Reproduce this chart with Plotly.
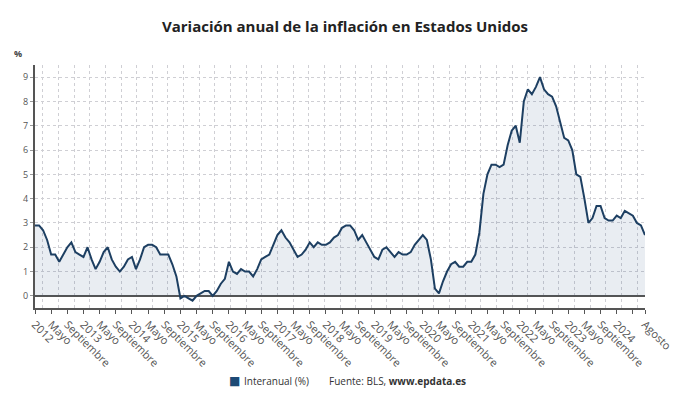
import pandas as pd
import plotly.graph_objects as go

# ---- data (monthly year-on-year CPI, %) ----
start_month = "2012-01"
v2012 = [2.9, 2.9, 2.7, 2.3, 1.7, 1.7, 1.4, 1.7, 2.0, 2.2, 1.8, 1.7]
v2013 = [1.6, 2.0, 1.5, 1.1, 1.4, 1.8, 2.0, 1.5, 1.2, 1.0, 1.2, 1.5]
v2014 = [1.6, 1.1, 1.5, 2.0, 2.1, 2.1, 2.0, 1.7, 1.7, 1.7, 1.3, 0.8]
v2015 = [-0.1, 0.0, -0.1, -0.2, 0.0, 0.1, 0.2, 0.2, 0.0, 0.2, 0.5, 0.7]
v2016 = [1.4, 1.0, 0.9, 1.1, 1.0, 1.0, 0.8, 1.1, 1.5, 1.6, 1.7, 2.1]
v2017 = [2.5, 2.7, 2.4, 2.2, 1.9, 1.6, 1.7, 1.9, 2.2, 2.0, 2.2, 2.1]
v2018 = [2.1, 2.2, 2.4, 2.5, 2.8, 2.9, 2.9, 2.7, 2.3, 2.5, 2.2, 1.9]
v2019 = [1.6, 1.5, 1.9, 2.0, 1.8, 1.6, 1.8, 1.7, 1.7, 1.8, 2.1, 2.3]
v2020 = [2.5, 2.3, 1.5, 0.3, 0.1, 0.6, 1.0, 1.3, 1.4, 1.2, 1.2, 1.4]
v2021 = [1.4, 1.7, 2.6, 4.2, 5.0, 5.4, 5.4, 5.3, 5.4, 6.2, 6.8, 7.0]
v2022 = [6.3, 8.0, 8.5, 8.3, 8.6, 9.0, 8.5, 8.3, 8.2, 7.8, 7.1, 6.5]
v2023 = [6.4, 6.0, 5.0, 4.9, 4.0, 3.0, 3.2, 3.7, 3.7, 3.2, 3.1, 3.1]
v2024 = [3.3, 3.2, 3.5, 3.4, 3.3, 3.0, 2.9, 2.5]

values = (v2012 + v2013 + v2014 + v2015 + v2016 + v2017 + v2018 +
          v2019 + v2020 + v2021 + v2022 + v2023 + v2024)
months = pd.date_range(start_month, periods=len(values), freq="MS")
x_idx = list(range(len(values)))

month_names = {5: "Mayo", 9: "Septiembre"}
y_ticks = list(range(0, 10))
series_name = "Interanual (%)"
source_text = "Fuente: BLS, <b>www.epdata.es</b>"

# ---- tick labels every 4 months ----
tickvals, ticktext = [], []
for i, d in enumerate(months):
    if i % 4 == 0:
        tickvals.append(i)
        ticktext.append(str(d.year) if d.month == 1 else month_names[d.month])
last = len(values) - 1
if tickvals[-1] > last - 4:
    ticktext[-1] = ""
tickvals.append(last)
ticktext.append("Agosto")

# vertical dotted grid (offset from the tick positions, as in the original)
n_grid = 39
grid_vals = [(k + 0.5) * last / n_grid for k in range(n_grid)]

LINE = "#1d3f62"
FILL = "rgba(40,80,130,0.10)"
GRID = "#cfcfd4"
AXIS = "#555555"

fig = go.Figure()
fig.add_trace(go.Scatter(
    x=x_idx, y=values, mode="lines", name=series_name,
    line=dict(color=LINE, width=2),
    fill="tozeroy", fillcolor=FILL,
    showlegend=False, hoverinfo="skip",
))

fig.update_layout(
    width=690, height=405,
    margin=dict(l=35, r=45, t=65, b=97, autoexpand=False),
    paper_bgcolor="white", plot_bgcolor="white",
    font=dict(family="Open Sans", color="#333333"),
    title=dict(
        text="<b>Variación anual de la inflación en Estados Unidos</b>",
        x=0.5, xref="container", xanchor="center",
        y=1 - 27 / 405, yref="container", yanchor="middle",
        font=dict(size=15, color="#222222", family="Open Sans"),
        automargin=False,
    ),
    xaxis=dict(
        range=[0, last], automargin=False,
        tickmode="array", tickvals=tickvals, ticktext=ticktext,
        tickangle=45, tickfont=dict(size=11, color="#555555"),
        ticks="outside", ticklen=4, tickcolor=AXIS,
        showgrid=False, zeroline=False,
        showline=True, linecolor=AXIS, linewidth=2,
        minor=dict(tickmode="array", tickvals=grid_vals, showgrid=True,
                   gridcolor=GRID, griddash="dot", gridwidth=1, ticks=""),
    ),
    yaxis=dict(
        range=[-0.5, 9.5], automargin=False,
        tickmode="array", tickvals=y_ticks,
        tickfont=dict(size=9, color="#555555"),
        ticks="outside", ticklen=3, tickcolor="#999999",
        showgrid=True, gridcolor=GRID, griddash="dot", gridwidth=1,
        zeroline=True, zerolinecolor=AXIS, zerolinewidth=2,
        showline=True, linecolor=AXIS, linewidth=2,
    ),
    showlegend=False,
    annotations=[
        dict(text="<b>%</b>", x=-0.028, y=1.049, xref="paper", yref="paper",
             showarrow=False, xanchor="center", yanchor="middle",
             font=dict(size=9, color="#444444")),
        dict(text="■", x=(235 - 35) / 610, y=-0.299, xref="paper",
             yref="paper", showarrow=False, xanchor="center",
             yanchor="middle", font=dict(size=12, color="#1d4a75",
                                         family="DejaVu Sans")),
        dict(text=series_name,
             x=(242 - 35) / 610, y=-0.299, xref="paper", yref="paper",
             showarrow=False, xanchor="left", yanchor="middle",
             font=dict(size=10, color="#333333")),
        dict(text=source_text, x=(327 - 35) / 610, y=-0.299,
             xref="paper", yref="paper", showarrow=False,
             xanchor="left", yanchor="middle",
             font=dict(size=10, color="#333333")),
    ],
)

fig.write_html("out.html",
               config={"displayModeBar": False},
               post_script="document.body.style.margin='0';"
                           "document.body.style.padding='0';")
